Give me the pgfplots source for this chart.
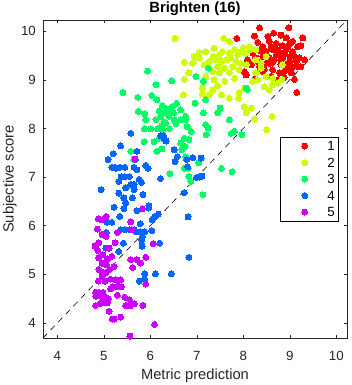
\documentclass[border=0pt]{standalone}
\usepackage{fontspec}
\setmainfont{Liberation Sans}
\usepackage{pgfplots}
\pgfplotsset{compat=1.18}
\definecolor{mgray}{RGB}{38,38,38}
\definecolor{c1}{rgb}{1,0,0}
\definecolor{c2}{rgb}{0.8,1,0}
\definecolor{c3}{rgb}{0,1,0.4}
\definecolor{c4}{rgb}{0,0.4,1}
\definecolor{c5}{rgb}{0.8,0,1}
\pgfplotsset{every axis title/.style={at={(axis description cs:0.5,1)}, anchor=base, yshift=7.3pt, font=\fontsize{14.8}{17}\bfseries\selectfont}}
\begin{document}
\begin{tikzpicture}
\begin{axis}[
  scale only axis, width=304pt, height=318pt,
  xmin=3.69, xmax=10.23, ymin=3.69, ymax=10.23,
  xtick={4,5,6,7,8,9,10}, ytick={4,5,6,7,8,9,10},
  /pgf/number format/assume math mode=true,
  axis line style={mgray, line width=0.5pt},
  tick style={mgray, line width=0.5pt},
  major tick length=3.2pt,
  tick align=inside,
  ticklabel style={font=\fontsize{13.3}{16}\selectfont, text=mgray},
  xticklabel style={anchor=base, yshift=-22pt},
  yticklabel style={anchor=east, inner sep=0pt, xshift=-7pt},
  xlabel={Metric prediction},
  ylabel={Subjective score},
  label style={font=\fontsize{14.7}{17}\selectfont, text=mgray},
  xlabel style={at={(axis description cs:0.5,0)}, anchor=base, yshift=-41.5pt},
  ylabel style={at={(axis description cs:-0.097,0.5)}, anchor=base},
  title={Brighten (16)},
  legend style={at={(0.974,0.633)}, anchor=north east, draw=black, line width=0.6pt,
    inner xsep=0pt, inner ysep=0.75pt, row sep=0pt,
    font=\fontsize{13.3}{16}\selectfont,
    nodes={inner xsep=4pt, inner ysep=0pt, text height=13pt, text depth=3.5pt}},
  legend image code/.code={\path (0pt,0pt) (42.6pt,0pt); \draw[#1] plot coordinates {(24.3pt,0pt)};},
  every axis plot/.append style={only marks, mark=*, mark size=3pt},
]
\addplot[black, mark=none, sharp plot, dash pattern=on 6pt off 5pt, line width=0.6pt, forget plot] coordinates {(3.69,3.69) (10.23,10.23)};
\addplot[only marks, mark=*, color=c1, mark options={fill=c1, draw=c1, line width=0pt}] table[row sep=\\] {
x y\\
8.35 10.07\\ 8.98 10.07\\ 7.86 9.85\\ 8.24 9.90\\ 8.65 9.96\\ 8.53 9.89\\ 8.81 9.92\\ 9.28 9.86\\ 9.06 9.79\\ 8.92 9.86\\
8.31 9.77\\ 8.42 9.68\\ 8.56 9.79\\ 8.71 9.75\\ 8.85 9.70\\ 9.00 9.74\\ 9.17 9.68\\ 9.24 9.70\\ 8.35 9.60\\ 8.49 9.58\\
8.63 9.62\\ 8.78 9.55\\ 8.92 9.62\\ 9.06 9.58\\ 8.20 9.55\\ 8.42 9.48\\ 8.56 9.45\\ 8.71 9.51\\ 8.85 9.45\\ 9.00 9.48\\
9.21 9.45\\ 8.31 9.38\\ 8.49 9.34\\ 8.63 9.36\\ 8.81 9.31\\ 8.96 9.34\\ 9.14 9.38\\ 9.32 9.41\\ 8.35 9.27\\ 8.45 9.21\\
8.63 9.21\\ 8.78 9.14\\ 9.00 9.21\\ 9.17 9.27\\ 8.02 9.17\\ 8.06 9.10\\ 8.42 9.17\\ 8.60 9.07\\ 8.88 9.05\\ 9.03 9.14\\
9.10 9.01\\ 8.24 9.01\\ 8.76 9.01\\ 9.15 8.74\\ 8.17 9.31\\ 8.09 9.41\\ 8.27 9.45\\ 8.88 9.55\\ 8.74 9.62\\ 8.60 9.68\\
8.96 9.68\\ 9.06 9.27\\ 8.92 9.27\\ 8.56 9.34\\ 9.00 9.38\\ 8.81 9.41\\ 8.67 9.42\\ 9.10 9.48\\ 9.24 9.27\\ 8.88 9.17\\
8.71 9.62\\
};
\addlegendentry{1}
\addplot[only marks, mark=*, color=c2, mark options={fill=c2, draw=c2, line width=0pt}] table[row sep=\\] {
x y\\
6.53 9.85\\ 7.58 9.85\\ 7.70 9.79\\ 7.37 9.65\\ 7.19 9.58\\ 7.05 9.56\\ 6.94 9.48\\ 6.73 9.36\\ 6.91 9.34\\ 7.05 9.45\\
7.16 9.31\\ 7.27 9.38\\ 7.35 9.48\\ 7.48 9.51\\ 7.55 9.58\\ 7.70 9.55\\ 7.81 9.62\\ 7.88 9.51\\ 7.95 9.58\\ 8.06 9.55\\
8.13 9.68\\ 8.27 9.62\\ 7.42 9.41\\ 7.53 9.38\\ 7.63 9.41\\ 7.73 9.45\\ 7.85 9.38\\ 7.95 9.34\\ 8.06 9.31\\ 7.45 9.27\\
7.60 9.24\\ 7.77 9.27\\ 7.91 9.21\\ 7.34 9.17\\ 7.48 9.14\\ 7.70 9.15\\ 7.81 9.03\\ 7.19 9.07\\ 7.37 9.00\\ 7.60 8.97\\
7.45 8.88\\ 7.12 8.83\\ 7.34 8.79\\ 7.53 8.69\\ 7.70 8.62\\ 7.90 8.62\\ 7.91 8.73\\ 8.02 8.83\\ 8.20 8.97\\ 8.31 9.00\\
8.27 9.14\\ 8.38 9.24\\ 8.49 9.07\\ 8.56 8.79\\ 8.63 8.90\\ 8.74 8.93\\ 8.83 9.01\\ 8.84 9.31\\ 8.27 9.41\\ 8.49 9.48\\
8.02 8.45\\ 8.17 8.42\\ 8.06 8.32\\ 8.24 8.19\\ 8.50 7.97\\ 8.62 8.25\\ 6.73 9.01\\ 6.83 9.14\\ 6.71 8.69\\ 6.93 9.36\\
7.12 8.71\\ 7.27 8.69\\ 8.00 9.66\\ 8.15 9.62\\ 8.63 9.03\\ 8.45 8.86\\ 8.38 9.34\\
};
\addlegendentry{2}
\addplot[only marks, mark=*, color=c3, mark options={fill=c3, draw=c3, line width=0pt}] table[row sep=\\] {
x y\\
5.94 9.18\\ 6.12 8.90\\ 6.46 8.98\\ 5.41 8.74\\ 5.73 8.64\\ 6.03 8.68\\ 6.14 8.59\\ 6.96 8.52\\ 5.74 8.35\\ 5.88 8.30\\
6.26 8.47\\ 6.19 8.36\\ 6.31 8.32\\ 6.47 8.45\\ 6.57 8.52\\ 6.65 8.38\\ 6.40 8.25\\ 6.22 8.25\\ 6.12 8.18\\ 6.29 8.14\\
6.51 8.18\\ 6.65 8.18\\ 6.76 8.18\\ 6.76 8.25\\ 5.90 8.18\\ 5.87 7.99\\ 6.01 7.99\\ 6.16 7.99\\ 6.26 7.97\\ 6.33 8.11\\
5.87 7.73\\ 6.08 7.73\\ 6.19 7.80\\ 6.14 7.53\\ 6.25 7.58\\ 5.58 7.53\\ 5.64 7.36\\ 6.42 7.07\\ 6.68 7.56\\ 6.75 7.63\\
6.83 7.77\\ 6.73 7.80\\ 6.65 7.70\\ 6.76 7.42\\ 6.73 7.18\\ 6.81 7.18\\ 6.83 7.01\\ 6.87 6.91\\ 7.04 7.29\\ 6.88 7.94\\
6.79 8.04\\ 7.14 8.32\\ 7.19 8.08\\ 7.24 8.01\\ 7.20 7.87\\ 7.13 6.64\\ 7.19 8.59\\ 7.14 8.97\\ 6.98 9.07\\ 7.50 8.42\\
7.45 8.32\\ 7.70 8.18\\ 7.74 7.90\\ 7.81 7.94\\ 7.97 7.87\\ 8.06 8.83\\ 8.09 8.80\\ 7.53 7.18\\ 7.76 7.11\\ 7.25 9.24\\
5.61 6.81\\ 6.42 8.38\\ 6.50 8.32\\ 6.35 8.40\\ 6.55 8.10\\ 6.24 8.05\\ 6.41 8.00\\
};
\addlegendentry{3}
\addplot[only marks, mark=*, color=c4, mark options={fill=c4, draw=c4, line width=0pt}] table[row sep=\\] {
x y\\
5.58 7.90\\ 5.36 7.64\\ 5.20 7.48\\ 5.09 7.36\\ 5.17 7.20\\ 5.24 7.20\\ 5.34 7.20\\ 5.45 7.20\\ 5.65 7.20\\ 5.37 7.01\\
5.45 7.01\\ 5.55 7.01\\ 5.32 6.91\\ 5.58 6.85\\ 5.65 6.85\\ 5.47 6.78\\ 5.76 6.95\\ 5.81 6.89\\ 5.71 7.15\\ 5.71 7.53\\
5.68 7.36\\ 5.90 7.24\\ 5.95 7.18\\ 4.94 6.74\\ 5.32 6.67\\ 5.43 6.57\\ 5.47 6.47\\ 5.43 6.35\\ 5.61 6.57\\ 5.65 6.74\\
5.84 6.64\\ 5.71 6.31\\ 5.96 6.36\\ 5.97 6.41\\ 5.22 6.38\\ 5.34 6.19\\ 5.04 6.12\\ 5.07 6.07\\ 5.17 6.07\\ 5.78 6.04\\
6.04 6.12\\ 6.10 6.19\\ 6.17 6.24\\ 6.06 6.15\\ 5.05 5.86\\ 5.36 5.92\\ 5.45 5.92\\ 5.56 5.92\\ 5.65 5.92\\ 5.70 5.87\\
5.78 5.87\\ 5.88 5.87\\ 6.03 5.90\\ 5.42 5.64\\ 5.32 5.47\\ 5.04 5.54\\ 5.81 5.71\\ 5.82 5.58\\ 6.20 5.64\\ 6.28 7.85\\
6.22 7.85\\ 6.34 7.74\\ 6.51 7.56\\ 6.58 7.42\\ 6.53 7.32\\ 6.78 7.36\\ 6.80 7.21\\ 6.91 7.40\\ 7.09 7.39\\ 6.99 6.99\\
7.06 7.00\\ 7.11 7.02\\ 6.73 6.68\\ 6.22 6.97\\ 6.81 6.18\\ 6.83 5.35\\ 6.45 5.01\\ 6.11 5.01\\ 5.88 5.01\\ 5.88 4.90\\
5.76 4.86\\ 5.83 5.78\\ 6.30 7.78\\ 5.26 7.18\\
};
\addlegendentry{4}
\addplot[only marks, mark=*, color=c5, mark options={fill=c5, draw=c5, line width=0pt}] table[row sep=\\] {
x y\\
5.67 7.37\\ 5.83 6.35\\ 4.88 6.14\\ 4.96 6.12\\ 5.05 6.19\\ 4.86 5.93\\ 4.96 5.82\\ 5.05 5.78\\ 5.29 5.86\\ 5.58 6.08\\
5.60 5.92\\ 4.81 5.58\\ 4.89 5.65\\ 4.87 5.49\\ 5.11 5.54\\ 5.24 5.65\\ 4.89 5.34\\ 4.96 5.23\\ 5.05 5.20\\ 5.17 5.37\\
5.22 5.16\\ 4.89 5.10\\ 5.05 5.04\\ 4.96 4.96\\ 4.88 4.86\\ 5.02 4.86\\ 5.14 4.90\\ 5.25 4.89\\ 5.36 4.89\\ 5.29 4.74\\
5.37 4.74\\ 5.18 4.74\\ 4.82 4.63\\ 4.89 4.63\\ 4.98 4.63\\ 5.02 4.55\\ 4.93 4.55\\ 4.83 4.55\\ 4.82 4.36\\ 5.00 4.41\\
5.07 4.41\\ 5.11 4.24\\ 5.22 4.08\\ 5.18 4.08\\ 5.36 4.12\\ 5.29 4.57\\ 5.45 4.53\\ 5.55 4.48\\ 5.47 4.36\\ 5.65 4.39\\
5.56 4.35\\ 5.84 4.36\\ 5.56 3.73\\ 6.09 3.97\\ 5.58 5.30\\ 5.62 5.14\\ 5.71 5.30\\ 5.79 5.23\\ 5.90 5.35\\ 5.90 4.80\\
6.06 5.63\\ 4.98 5.40\\ 5.08 5.32\\ 4.95 5.05\\ 5.12 5.10\\ 5.00 4.45\\ 4.92 4.40\\ 5.10 4.50\\ 5.30 4.87\\ 5.15 4.70\\
};
\addlegendentry{5}
\end{axis}
\pgfresetboundingbox
\path[use as bounding box] ([xshift=-43pt,yshift=-47pt]current axis.south west) rectangle ([xshift=4pt,yshift=20pt]current axis.north east);
\end{tikzpicture}
\end{document}
